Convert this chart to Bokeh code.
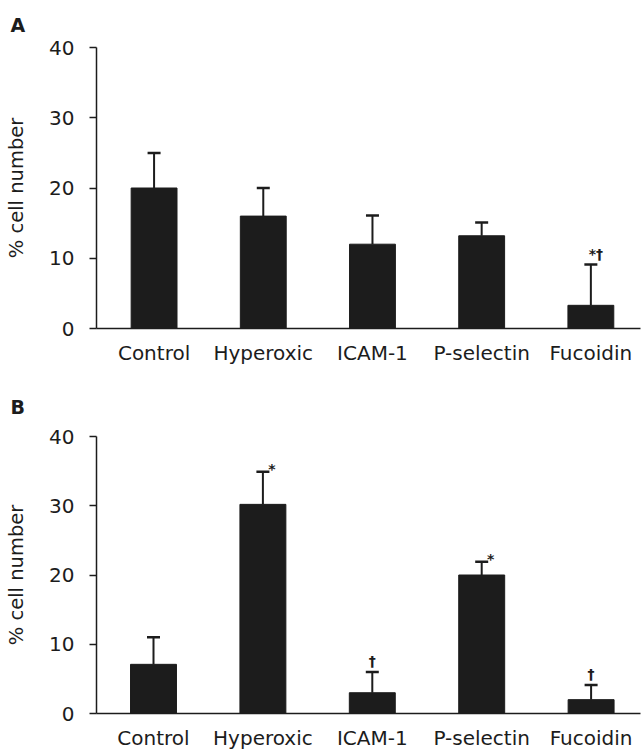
from bokeh.plotting import figure
from bokeh.layouts import column
from bokeh.models import Range1d, FixedTicker, Title
from bokeh.embed import file_html
from bokeh.resources import INLINE
from bokeh.core.properties import value

# ---- data ----
categories = ["Control", "Hyperoxic", "ICAM-1", "P-selectin", "Fucoidin"]
a_mean = [20.0, 16.0, 12.0, 13.2, 3.3]
a_sem = [5.0, 4.0, 4.1, 1.9, 5.8]
a_marks = ["", "", "", "", "*\u2020"]
b_mean = [7.1, 30.2, 3.0, 20.0, 2.0]
b_sem = [3.9, 4.7, 3.0, 1.9, 2.1]
b_marks = ["", "*", "\u2020", "*", "\u2020"]
y_ticks = [0, 10, 20, 30, 40]

FONT = "DejaVu Sans"
INK = "#1c1c1c"
WIDTH = 643
B_RIGHT = 3


def panel(letter, mean, sem, marks, height, b_left, b_top, b_bottom, first_off, spacing,
          letter_offset, letter_standoff):
    xs = list(range(len(categories)))
    frame_w = WIDTH - b_left - B_RIGHT
    start = -first_off / spacing
    end = start + frame_w / spacing
    p = figure(width=WIDTH, height=height, output_backend="svg", toolbar_location=None,
               x_range=Range1d(start, end), y_range=Range1d(0, 40))
    p.min_border = 0
    p.min_border_left = b_left
    p.min_border_right = B_RIGHT
    p.min_border_top = b_top
    p.min_border_bottom = b_bottom
    p.outline_line_color = None
    p.xgrid.visible = False
    p.ygrid.visible = False
    p.background_fill_color = "white"

    # panel letter as a left-aligned title
    p.title = Title(text=letter, align="left", offset=letter_offset, standoff=letter_standoff,
                    text_font=FONT, text_font_size="19px", text_font_style="bold",
                    text_color=INK)

    tops = [m + s for m, s in zip(mean, sem)]
    p.segment(x0=xs, y0=mean, x1=xs, y1=tops, line_width=2, line_color=INK)
    p.scatter(x=xs, y=tops, marker="dash", size=13, line_width=2.5, line_color=INK)
    p.vbar(x=xs, top=mean, bottom=0, width=0.42, fill_color=INK, line_color=INK)

    # significance marks above the error caps
    x_off, y_off = [], []
    for m in marks:
        if "\u2020" in m and "*" in m:
            x_off.append(5); y_off.append(-11)
        elif "\u2020" in m:
            x_off.append(0); y_off.append(-11)
        else:
            x_off.append(9); y_off.append(-3)
    p.text(x=xs, y=tops, text=marks, x_offset=x_off, y_offset=y_off,
           text_align="center", text_baseline="alphabetic",
           text_font=value(FONT), text_font_size="14px", text_font_style="bold",
           text_color=INK)

    xa = p.xaxis[0]
    xa.ticker = FixedTicker(ticks=xs)
    xa.major_label_overrides = {i: c for i, c in enumerate(categories)}
    xa.major_tick_out = 0
    xa.major_tick_in = 0
    xa.minor_tick_out = 0
    xa.minor_tick_in = 0
    xa.axis_line_width = 1.5
    xa.axis_line_color = INK
    xa.major_label_standoff = 12
    xa.major_label_text_font = FONT
    xa.major_label_text_font_size = "20px"
    xa.major_label_text_color = INK

    ya = p.yaxis[0]
    ya.ticker = FixedTicker(ticks=y_ticks)
    ya.major_tick_out = 7
    ya.major_tick_in = 0
    ya.minor_tick_out = 0
    ya.minor_tick_in = 0
    ya.axis_line_width = 1.5
    ya.axis_line_color = INK
    ya.major_tick_line_width = 1.5
    ya.major_tick_line_color = INK
    ya.major_label_standoff = 15
    ya.major_label_text_font = FONT
    ya.major_label_text_font_size = "20px"
    ya.major_label_text_color = INK
    ya.axis_label = "% cell number"
    ya.axis_label_standoff = 18
    ya.axis_label_text_font = FONT
    ya.axis_label_text_font_size = "19.5px"
    ya.axis_label_text_font_style = "normal"
    ya.axis_label_text_color = INK
    return p


pa = panel("A", a_mean, a_sem, a_marks, height=374, b_left=92, b_top=47, b_bottom=46,
           first_off=58, spacing=110, letter_offset=-86, letter_standoff=23)
pb = panel("B", b_mean, b_sem, b_marks, height=378, b_left=96, b_top=61, b_bottom=36,
           first_off=57, spacing=109.4, letter_offset=-86, letter_standoff=38)

layout = column(pa, pb, spacing=0)
open("out.html", "w").write(file_html(layout, INLINE))
